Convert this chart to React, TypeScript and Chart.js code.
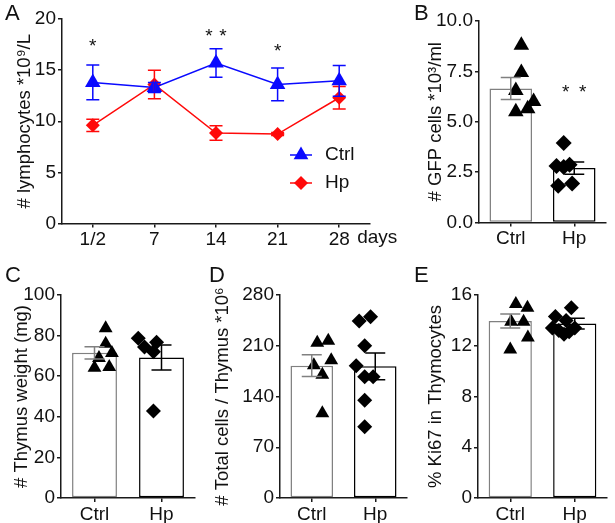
import React, { useEffect, useRef } from 'react';
import { Chart, registerables } from 'chart.js';

Chart.register(...registerables);

const FONT = '"Liberation Sans", Arial, Helvetica, sans-serif';
const AXIS = '#1a1a1a';
const TXT = '#111111';
const BLUE = '#0a0aff';
const RED = '#ff0a0a';
const GRAY = '#808080';

// ---------- Panel A ----------
const dayLabels = ['1/2', '7', '14', '21', '28'];
const ctrlMeanA = [13.8, 13.3, 15.7, 13.6, 13.95];
const ctrlErrA = [1.7, 0.5, 1.4, 1.6, 1.5];
const hpMeanA = [9.6, 13.6, 8.85, 8.75, 12.3];
const hpErrA = [0.6, 1.4, 0.7, 0.15, 1.1];
const sigIndexA = [0, 2, 3];
const sigValueA = [17.8, 18.85, 17.36];
const sigStarsA = [1, 2, 1];

// ---------- Shared categories ----------
const groups = ['Ctrl', 'Hp'];

// ---------- Panel B ----------
const meanB = [6.65, 2.7];
const semB = [0.55, 0.3];
const ctrlB = [8.8, 7.45, 6.55, 6.0, 5.65, 5.5];
const ctrlBx = [0, 0, -0.13, 0.29, 0.15, -0.13];
const hpB = [3.94, 2.8, 2.87, 2.75, 1.82, 1.94];
const hpBx = [0, -0.17, 0.14, 0, -0.13, 0.2];

// ---------- Panel C ----------
const meanC = [71.5, 69.2];
const semC = [3.0, 6.2];
const ctrlC = [83.6, 69, 71.4, 64.2, 64.5, 76];
const ctrlCx = [0, -0.15, 0.14, -0.25, 0.08, 0];
const hpC = [78.7, 76.7, 74.4, 72.1, 42.9];
const hpCx = [-0.27, 0.14, -0.13, 0.07, 0.07];

// ---------- Panel D ----------
const meanD = [182.5, 181.6];
const semD = [15, 18.5];
const ctrlD = [214, 217, 183, 190, 170, 117];
const ctrlDx = [-0.12, 0.14, -0.2, 0.21, 0, 0];
const hpD = [244, 250, 210, 182.5, 167.3, 167.3, 135, 98.3];
const hpDx = [-0.13, 0.14, 0, -0.2, 0, 0.2, 0, 0];

// ---------- Panel E ----------
const meanE = [13.95, 13.75];
const semE = [0.55, 0.42];
const ctrlE = [15.3, 15.0, 13.9, 13.9, 12.65, 11.7];
const ctrlEx = [-0.12, 0.15, -0.23, 0.06, 0.16, -0.25];
const hpE = [15.0, 14.3, 13.4, 13.2, 12.9, 13.1, 13.4, 14.0];
const hpEx = [0.17, -0.2, -0.27, -0.12, 0.0, 0.12, 0.25, 0.05];

function yAxis(
  min: number, max: number, step: number, title: string, titlePad: number, width: number,
  fmt?: (v: any) => string
) {
  const ticks: any = { stepSize: step, font: { size: 19, family: FONT }, color: TXT, padding: 2 };
  if (fmt) ticks.callback = fmt;
  return {
    min, max,
    ticks,
    grid: { drawOnChartArea: false, drawTicks: true, tickLength: 4, color: AXIS, lineWidth: 1.5 },
    border: { display: true, color: AXIS, width: 1.5 },
    title: {
      display: true, text: title, font: { size: 18.5, family: FONT }, color: TXT,
      padding: { top: titlePad, bottom: 0 },
    },
    afterFit: (s: any) => { s.width = width; },
  };
}

function xAxis(height: number, pad: number) {
  return {
    type: 'category',
    offset: true,
    ticks: { font: { size: 19, family: FONT }, color: TXT, padding: pad, maxRotation: 0, autoSkip: false },
    grid: { offset: false, drawOnChartArea: false, drawTicks: true, tickLength: 4, color: AXIS, lineWidth: 1.5 },
    border: { display: true, color: AXIS, width: 1.5 },
    afterFit: (s: any) => { s.height = height; },
  };
}

function drawTri(ctx: CanvasRenderingContext2D, x: number, y: number, r: number) {
  ctx.beginPath();
  for (let k = 0; k < 3; k++) {
    const a = (k * 2 * Math.PI) / 3;
    const px = x + Math.sin(a) * r;
    const py = y - Math.cos(a) * r;
    if (k === 0) ctx.moveTo(px, py); else ctx.lineTo(px, py);
  }
  ctx.closePath();
  ctx.fill();
}

function drawDia(ctx: CanvasRenderingContext2D, x: number, y: number, r: number) {
  ctx.beginPath();
  ctx.moveTo(x - r, y);
  ctx.lineTo(x, y - r);
  ctx.lineTo(x + r, y);
  ctx.lineTo(x, y + r);
  ctx.closePath();
  ctx.fill();
}

function drawStars(ctx: CanvasRenderingContext2D, n: number, cx: number, cy: number, gap: number) {
  ctx.save();
  ctx.fillStyle = TXT;
  ctx.font = `19px ${FONT}`;
  ctx.textAlign = 'center';
  ctx.textBaseline = 'alphabetic';
  for (let k = 0; k < n; k++) {
    const off = (k - (n - 1) / 2) * gap;
    ctx.fillText('*', cx + off, cy + 11);
  }
  ctx.restore();
}

function makeA(): any {
  const errPlugin = {
    id: 'errA',
    afterDatasetsDraw(chart: any) {
      const { ctx, scales } = chart;
      const x = scales.x, y = scales.y;
      ctx.save();
      ctx.lineWidth = 1.5;
      const sets = [
        { m: hpMeanA, e: hpErrA, c: RED },
        { m: ctrlMeanA, e: ctrlErrA, c: BLUE },
      ];
      sets.forEach((s) => {
        ctx.strokeStyle = s.c;
        s.m.forEach((m, i) => {
          const px = x.getPixelForValue(i);
          const t = y.getPixelForValue(m + s.e[i]);
          const b = y.getPixelForValue(m - s.e[i]);
          ctx.beginPath();
          ctx.moveTo(px, t); ctx.lineTo(px, b);
          ctx.moveTo(px - 6.5, t); ctx.lineTo(px + 6.5, t);
          ctx.moveTo(px - 6.5, b); ctx.lineTo(px + 6.5, b);
          ctx.stroke();
        });
      });
      sigIndexA.forEach((idx, k) => {
        drawStars(ctx, sigStarsA[k], x.getPixelForValue(idx), y.getPixelForValue(sigValueA[k]), 14);
      });
      // "days"
      const area = chart.chartArea;
      ctx.fillStyle = TXT;
      ctx.font = `19px ${FONT}`;
      ctx.textAlign = 'left';
      ctx.textBaseline = 'top';
      ctx.fillText('days', x.getPixelForValue(dayLabels.length - 1) + 18, area.bottom + 5);
      // legend
      const lx = 301;
      const items = [
        { t: 'Ctrl', c: BLUE, y: 155, tri: true },
        { t: 'Hp', c: RED, y: 183, tri: false },
      ];
      items.forEach((it) => {
        ctx.strokeStyle = it.c;
        ctx.fillStyle = it.c;
        ctx.lineWidth = 1.5;
        ctx.beginPath();
        ctx.moveTo(lx - 11, it.y); ctx.lineTo(lx + 11, it.y);
        ctx.stroke();
        if (it.tri) drawTri(ctx, lx, it.y, 8.5); else drawDia(ctx, lx, it.y, 7);
        ctx.fillStyle = TXT;
        ctx.font = `19px ${FONT}`;
        ctx.textAlign = 'left';
        ctx.textBaseline = 'middle';
        ctx.fillText(it.t, lx + 24, it.y);
      });
      ctx.restore();
    },
  };
  return {
    type: 'line',
    data: {
      labels: dayLabels,
      datasets: [
        {
          label: 'Ctrl', data: ctrlMeanA, borderColor: BLUE, backgroundColor: BLUE,
          borderWidth: 1.5, pointStyle: 'triangle', pointRadius: 9, pointBorderWidth: 0,
          tension: 0, fill: false,
        },
        {
          label: 'Hp', data: hpMeanA, borderColor: RED, backgroundColor: RED,
          borderWidth: 1.5, pointStyle: 'rectRot', pointRadius: 7, pointBorderWidth: 0,
          tension: 0, fill: false,
        },
      ],
    },
    options: {
      responsive: false,
      animation: false,
      layout: { padding: { left: 0, top: 19, right: 40, bottom: 10.5 } },
      plugins: { legend: { display: false }, tooltip: { enabled: false } },
      scales: {
        x: xAxis(28, 1),
        y: yAxis(0, 20, 5, '# lymphocytes *10\u2079/L', 13.5, 62),
      },
    },
    plugins: [errPlugin],
  };
}

interface BarSpec {
  mean: number[]; sem: number[];
  ctrl: number[]; ctrlX: number[]; hp: number[]; hpX: number[];
  yMin: number; yMax: number; yStep: number; title: string; titlePad: number; yWidth: number;
  pad: { top: number; right: number; bottom: number }; xHeight: number; xPad: number;
  triR: number; diaR: number; fmt?: (v: any) => string;
  sig?: { idx: number; value: number; stars: number };
}

function makeBar(s: BarSpec): any {
  const errPlugin = {
    id: 'errBar',
    afterDatasetsDraw(chart: any) {
      const { ctx, scales } = chart;
      const x = scales.x, y = scales.y;
      const colors = [GRAY, '#000000'];
      ctx.save();
      ctx.lineWidth = 1.5;
      s.mean.forEach((m, i) => {
        const px = x.getPixelForValue(i);
        const t = y.getPixelForValue(m + s.sem[i]);
        const b = y.getPixelForValue(m - s.sem[i]);
        ctx.strokeStyle = colors[i];
        ctx.beginPath();
        ctx.moveTo(px, t); ctx.lineTo(px, b);
        ctx.moveTo(px - 10, t); ctx.lineTo(px + 10, t);
        ctx.moveTo(px - 10, b); ctx.lineTo(px + 10, b);
        ctx.stroke();
      });
      ctx.restore();
      if (s.sig) {
        drawStars(ctx, s.sig.stars, x.getPixelForValue(s.sig.idx), y.getPixelForValue(s.sig.value), 17);
      }
    },
  };
  return {
    type: 'bar',
    data: {
      labels: groups,
      datasets: [
        {
          type: 'bar', data: s.mean, backgroundColor: '#ffffff',
          borderColor: [GRAY, '#000000'], borderWidth: 1.5, borderSkipped: false,
          grouped: false, barPercentage: 0.67, categoryPercentage: 1, order: 2,
        },
        {
          type: 'scatter', xAxisID: 'x2',
          data: s.ctrl.map((v, i) => ({ x: 0 + s.ctrlX[i], y: v })),
          pointStyle: 'triangle', pointRadius: s.triR, pointBorderWidth: 0,
          backgroundColor: '#000000', borderColor: '#000000', order: 1,
        },
        {
          type: 'scatter', xAxisID: 'x2',
          data: s.hp.map((v, i) => ({ x: 1 + s.hpX[i], y: v })),
          pointStyle: 'rectRot', pointRadius: s.diaR, pointBorderWidth: 0,
          backgroundColor: '#000000', borderColor: '#000000', order: 1,
        },
      ],
    },
    options: {
      responsive: false,
      animation: false,
      layout: { padding: { left: 0, top: s.pad.top, right: s.pad.right, bottom: s.pad.bottom } },
      plugins: { legend: { display: false }, tooltip: { enabled: false } },
      scales: {
        x: xAxis(s.xHeight, s.xPad),
        x2: { type: 'linear', axis: 'x', min: -0.5, max: 1.5, display: false },
        y: yAxis(s.yMin, s.yMax, s.yStep, s.title, s.titlePad, s.yWidth, s.fmt),
      },
    },
    plugins: [errPlugin],
  };
}

function ChartCanvas(props: { left: number; top: number; width: number; height: number; make: () => any }) {
  const ref = useRef<HTMLCanvasElement>(null);
  useEffect(() => {
    const chart = new Chart(ref.current as HTMLCanvasElement, props.make());
    return () => chart.destroy();
  }, []);
  return (
    <canvas
      ref={ref}
      width={props.width}
      height={props.height}
      style={{ position: 'absolute', left: props.left, top: props.top, width: props.width, height: props.height }}
    />
  );
}

const letterStyle = (left: number, top: number): React.CSSProperties => ({
  position: 'absolute', left, top, fontFamily: FONT, fontSize: 22, lineHeight: '22px', color: TXT,
});

export default function App() {
  return (
    <div style={{ position: 'absolute', left: 0, top: 0, width: 615, height: 523, background: '#fff', overflow: 'hidden' }}>
      <ChartCanvas left={0} top={0} width={410} height={262} make={makeA} />
      <ChartCanvas
        left={400} top={0} width={215} height={262}
        make={() => makeBar({
          mean: meanB, sem: semB, ctrl: ctrlB, ctrlX: ctrlBx, hp: hpB, hpX: hpBx,
          yMin: 0, yMax: 10, yStep: 2.5, title: '# GFP cells *10\u00b3/ml', titlePad: 25, yWidth: 79,
          pad: { top: 21, right: 2, bottom: 11.5 }, xHeight: 28, xPad: 1, triR: 9, diaR: 8,
          fmt: (v: any) => Number(v).toFixed(1),
          sig: { idx: 1, value: 6.7, stars: 2 },
        })}
      />
      <ChartCanvas
        left={0} top={262} width={205} height={261}
        make={() => makeBar({
          mean: meanC, sem: semC, ctrl: ctrlC, ctrlX: ctrlCx, hp: hpC, hpX: hpCx,
          yMin: 0, yMax: 100, yStep: 20, title: '# Thymus weight (mg)', titlePad: 11, yWidth: 61,
          pad: { top: 33, right: 10, bottom: 0 }, xHeight: 25, xPad: 1, triR: 8, diaR: 7.5,
        })}
      />
      <ChartCanvas
        left={205} top={262} width={210} height={261}
        make={() => makeBar({
          mean: meanD, sem: semD, ctrl: ctrlD, ctrlX: ctrlDx, hp: hpD, hpX: hpDx,
          yMin: 0, yMax: 280, yStep: 70, title: '# Total cells / Thymus *10\u2076', titlePad: 7, yWidth: 75,
          pad: { top: 33, right: 0, bottom: 0 }, xHeight: 25, xPad: 1, triR: 8, diaR: 7.5,
        })}
      />
      <ChartCanvas
        left={415} top={262} width={200} height={261}
        make={() => makeBar({
          mean: meanE, sem: semE, ctrl: ctrlE, ctrlX: ctrlEx, hp: hpE, hpX: hpEx,
          yMin: 0, yMax: 16, yStep: 4, title: '% Ki67 in Thymocytes', titlePad: 10, yWidth: 63,
          pad: { top: 33, right: 2, bottom: 0 }, xHeight: 25, xPad: 1, triR: 8, diaR: 7.5,
        })}
      />
      <div style={letterStyle(5, 2)}>A</div>
      <div style={letterStyle(414, 2)}>B</div>
      <div style={letterStyle(5, 264)}>C</div>
      <div style={letterStyle(209, 264)}>D</div>
      <div style={letterStyle(414, 264)}>E</div>
    </div>
  );
}
